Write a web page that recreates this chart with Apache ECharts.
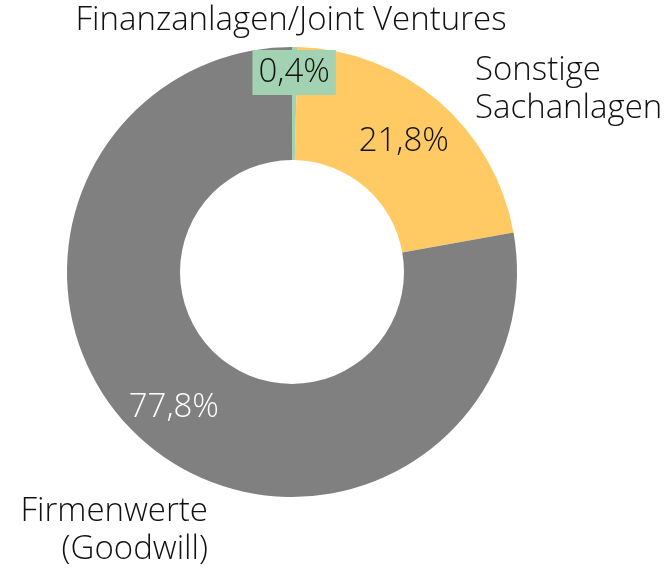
<!DOCTYPE html>
<html>
<head>
<meta charset="utf-8">
<script src="https://cdn.jsdelivr.net/npm/echarts@6/dist/echarts.min.js"></script>
<style>
    html, body {margin: 0; padding: 0; background: #fff;}
    #main {width: 665px; height: 569px;}
</style>
</head>
<body>
<div id="main"></div>
<script>
var categories = ['Finanzanlagen/Joint Ventures', 'Sonstige\nSachanlagen', 'Firmenwerte\n(Goodwill)'];
var values = [0.4, 21.8, 77.8];
var colors = ['#a3d2b2', '#ffc964', '#808080'];

// where the category names sit (label anchors)
var nameSpots = [
    {x: 291, y: 21, align: 'center'},
    {x: 475, y: 90, align: 'left'},
    {x: 208, y: 531, align: 'right'}
];

~function () {
    var myChart = echarts.init(document.getElementById('main'));
    var font = '"Open Sans", "Noto Sans", sans-serif';
    var pieData = categories.map(function (c, i) {
        return {name: c, value: values[i], itemStyle: {color: colors[i]}};
    });
    var option = {
        animation: false,
        series: [
            {
                type: 'pie',
                center: [292, 272],
                radius: [112, 225],
                startAngle: 90,
                clockwise: true,
                silent: true,
                data: pieData,
                label: {
                    show: true,
                    position: 'inside',
                    fontFamily: font,
                    fontWeight: 300,
                    fontSize: 33,
                    color: '#111',
                    formatter: function (p) {
                        return p.value.toFixed(1).replace('.', ',') + '%';
                    }
                },
                labelLayout: function (p) {
                    if (p.dataIndex === 0) return {dy: -28};
                    if (p.dataIndex === 2) return {dx: -8, dy: 4};
                    return {};
                }
            },
            {
                type: 'pie',
                center: [292, 272],
                radius: [112, 225],
                startAngle: 90,
                silent: true,
                data: pieData.map(function (d) {
                    return {name: d.name, value: d.value, itemStyle: {color: 'rgba(0,0,0,0)'}};
                }),
                label: {
                    show: true,
                    position: 'outside',
                    overflow: 'none',
                    fontFamily: font,
                    fontWeight: 300,
                    fontSize: 33,
                    lineHeight: 38,
                    color: '#111',
                    formatter: '{b}'
                },
                labelLine: {show: false},
                labelLayout: function (p) {
                    var s = nameSpots[p.dataIndex];
                    return {x: s.x, y: s.y, align: s.align, verticalAlign: 'middle'};
                }
            }
        ]
    };
    // per-slice inside label styling
    option.series[0].data[0].label = {backgroundColor: '#a3d2b2', padding: [6, 6]};
    option.series[0].data[2].label = {color: '#fff'};
    myChart.setOption(option);
}();
</script>
</body>
</html>
